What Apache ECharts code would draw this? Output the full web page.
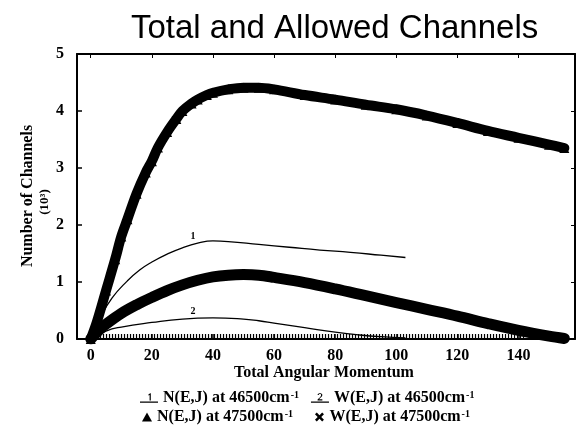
<!DOCTYPE html>
<html>
<head>
<meta charset="utf-8">
<script src="https://cdn.jsdelivr.net/npm/echarts@6/dist/echarts.min.js"></script>
<style>html,body{margin:0;padding:0;background:#fff}#c{width:577px;height:434px}</style>
</head>
<body>
<div id="c"></div>
<script>
// ---- data ----
const titleText = 'Total and Allowed Channels';
const xTicks = [0, 20, 40, 60, 80, 100, 120, 140];
const yTicks = [0, 1, 2, 3, 4, 5];
const seriesNames = ['N(E,J) at 46500', 'W(E,J) at 46500', 'N(E,J) at 47500', 'W(E,J) at 47500'];

// curve "1": N(E,J) at 46500 cm-1
const n46500 = [[0,0],[3,0.36],[7,0.72],[12,1.02],[16,1.21],[20,1.35],[25,1.49],[30,1.6],[35,1.68],[40,1.72],[45,1.71],[55,1.66],[65,1.61],[75,1.56],[85,1.52],[95,1.47],[103,1.43]];
// curve "2": W(E,J) at 46500 cm-1
const w46500 = [[0,0],[5,0.14],[10,0.21],[20,0.29],[30,0.35],[40,0.37],[50,0.35],[55,0.32],[60,0.28],[70,0.2],[80,0.12],[88,0.07],[95,0.04],[103,0.02]];
// triangles: N(E,J) at 47500 cm-1
const n47500 = [[0,0],[2,0.3],[5,0.85],[8,1.4],[10,1.8],[12,2.1],[15,2.55],[18,2.92],[20,3.12],[22,3.36],[25,3.63],[28,3.86],[30,4.0],[33,4.13],[35,4.2],[38,4.28],[40,4.32],[45,4.38],[50,4.41],[55,4.41],[60,4.38],[70,4.28],[80,4.2],[90,4.11],[100,4.03],[110,3.92],[120,3.79],[130,3.65],[140,3.53],[150,3.41],[155,3.35]];
// crosses: W(E,J) at 47500 cm-1
const w47500 = [[0,0],[3,0.17],[5,0.26],[10,0.45],[15,0.6],[20,0.73],[25,0.85],[30,0.95],[35,1.03],[40,1.09],[45,1.12],[50,1.13],[55,1.12],[60,1.08],[70,0.99],[80,0.88],[90,0.76],[100,0.64],[110,0.52],[120,0.4],[130,0.27],[140,0.15],[150,0.05],[155,0.01]];
// row of tiny markers lying along the x axis
const baseRow = [[3,0.035],[142,0.035]];
// positions of the curve number labels
const label1At = [33.5, 1.66];
const label2At = [33.5, 0.355];

const serif = 'Liberation Serif';
const icon1 = 'path://M0,22L30,22L30,24L0,24Z M14,10L17,8L18,8L18,20L16,20L16,11L14,12Z';
const icon2 = 'path://M0,22L30,22L30,24L0,24Z M11,11C11,7 19,7 19,11C19,14 15,16 13.5,18L19,18L19,20L11,20L11,18.5C14,15.5 17,13.5 17,11C17,9 13,9 13,11Z';
const iconX = 'path://M2,0L5,3L8,0L10,2L7,5L10,8L8,10L5,7L2,10L0,8L3,5L0,2Z';

const chart = echarts.init(document.getElementById('c'), null, {renderer: 'canvas'});
const axisFont = {fontFamily: serif, fontWeight: 'bold', fontSize: 16, color: '#000'};
const frame = {show: true, onZero: false, lineStyle: {color: '#000', width: 2}};
const legendFmt = function (name) { return name + '{u|cm}{s|-1}'; };
const legendText = {
  fontFamily: serif, fontWeight: 'bold', fontSize: 16, color: '#000',
  rich: {
    u: {fontFamily: serif, fontWeight: 'bold', fontSize: 16, color: '#000'},
    s: {fontFamily: serif, fontWeight: 'bold', fontSize: 10, color: '#000', verticalAlign: 'top', padding: [0, 0, 6, 1]}
  }
};

chart.setOption({
  animation: false,
  backgroundColor: '#fff',
  title: {
    text: titleText, left: 126, top: 7,
    textStyle: {fontFamily: 'Liberation Sans', fontWeight: 'normal', fontSize: 33, color: '#000'}
  },
  grid: {left: 77, right: 2, top: 54, bottom: 95, containLabel: false},
  legend: [
    {
      left: 135, top: 385, orient: 'horizontal', itemWidth: 18, itemHeight: 13, itemGap: 12,
      data: [{name: seriesNames[0], icon: icon1}, {name: seriesNames[1], icon: icon2}],
      itemStyle: {color: '#000', borderWidth: 0}, lineStyle: {width: 0},
      formatter: legendFmt, textStyle: legendText, selectedMode: false
    },
    {
      left: 137, top: 404, orient: 'horizontal', itemWidth: 10, itemHeight: 9, itemGap: 22,
      data: [{name: seriesNames[2], icon: 'triangle'}, {name: seriesNames[3], icon: iconX}],
      itemStyle: {color: '#000', borderWidth: 0}, lineStyle: {width: 0},
      formatter: legendFmt, textStyle: legendText, selectedMode: false
    }
  ],
  xAxis: [
    {
      type: 'value', min: -4.5, max: 158.5, position: 'bottom',
      axisLine: frame,
      axisTick: {show: true, inside: true, length: 5, customValues: xTicks, lineStyle: {color: '#000', width: 1.5}},
      axisLabel: Object.assign({customValues: xTicks, margin: 9}, axisFont),
      splitLine: {show: false}
    },
    {
      type: 'value', min: -4.5, max: 158.5, position: 'top',
      axisLine: frame,
      axisTick: {show: true, inside: true, length: 4, customValues: xTicks, lineStyle: {color: '#000', width: 1}},
      axisLabel: {show: false}, splitLine: {show: false}
    }
  ],
  yAxis: [
    {
      type: 'value', min: 0, max: 5, interval: 1, position: 'left',
      axisLine: frame,
      axisTick: {show: true, inside: true, length: 5, lineStyle: {color: '#000', width: 1.5}},
      axisLabel: Object.assign({margin: 13, customValues: yTicks}, axisFont),
      splitLine: {show: false}
    },
    {
      type: 'value', min: 0, max: 5, interval: 1, position: 'right',
      axisLine: frame,
      axisTick: {show: true, inside: true, length: 4, lineStyle: {color: '#000', width: 1}},
      axisLabel: {show: false}, splitLine: {show: false}
    }
  ],
  graphic: [
    {type: 'text', x: 324, y: 373, style: {text: 'Total Angular Momentum', font: 'bold 16px "Liberation Serif"', fill: '#000', align: 'center', verticalAlign: 'middle'}},
    {type: 'text', x: 28, y: 196, rotation: Math.PI / 2, style: {text: 'Number of Channels', font: 'bold 16px "Liberation Serif"', fill: '#000', align: 'center', verticalAlign: 'middle'}},
    {type: 'text', x: 45, y: 202, rotation: Math.PI / 2, style: {text: '(10³)', font: 'bold 13px "Liberation Serif"', fill: '#000', align: 'center', verticalAlign: 'middle'}}
  ],
  series: [
    {
      name: seriesNames[0], type: 'line', data: n46500, smooth: 0.5, symbol: 'none',
      lineStyle: {color: '#000', width: 1.3}, z: 3,
      markPoint: {symbol: 'circle', symbolSize: 1, itemStyle: {color: 'rgba(0,0,0,0)'},
        label: {show: true, formatter: '1', position: 'top', distance: 2, fontFamily: serif, fontWeight: 'bold', fontSize: 10, color: '#000'},
        data: [{coord: label1At}]}
    },
    {
      name: seriesNames[1], type: 'line', data: w46500, smooth: 0.5, symbol: 'none',
      lineStyle: {color: '#000', width: 1.3}, z: 3,
      markPoint: {symbol: 'circle', symbolSize: 1, itemStyle: {color: 'rgba(0,0,0,0)'},
        label: {show: true, formatter: '2', position: 'top', distance: 2, fontFamily: serif, fontWeight: 'bold', fontSize: 10, color: '#000'},
        data: [{coord: label2At}]}
    },
    {
      name: seriesNames[2], type: 'line', data: n47500, smooth: 0.35,
      symbol: 'triangle', symbolSize: 10, showSymbol: true,
      itemStyle: {color: '#000', borderWidth: 0},
      lineStyle: {color: '#000', width: 10, cap: 'round'}, z: 4
    },
    {
      name: seriesNames[3], type: 'line', data: w47500, smooth: 0.35, symbol: 'none',
      itemStyle: {color: '#000'},
      lineStyle: {color: '#000', width: 11, cap: 'round'}, z: 4
    },
    {
      name: 'row', type: 'line', data: baseRow, symbol: 'none', silent: true,
      lineStyle: {color: '#000', width: 6, type: [1.2, 1.8]}, z: 2
    }
  ]
});
</script>
</body>
</html>
